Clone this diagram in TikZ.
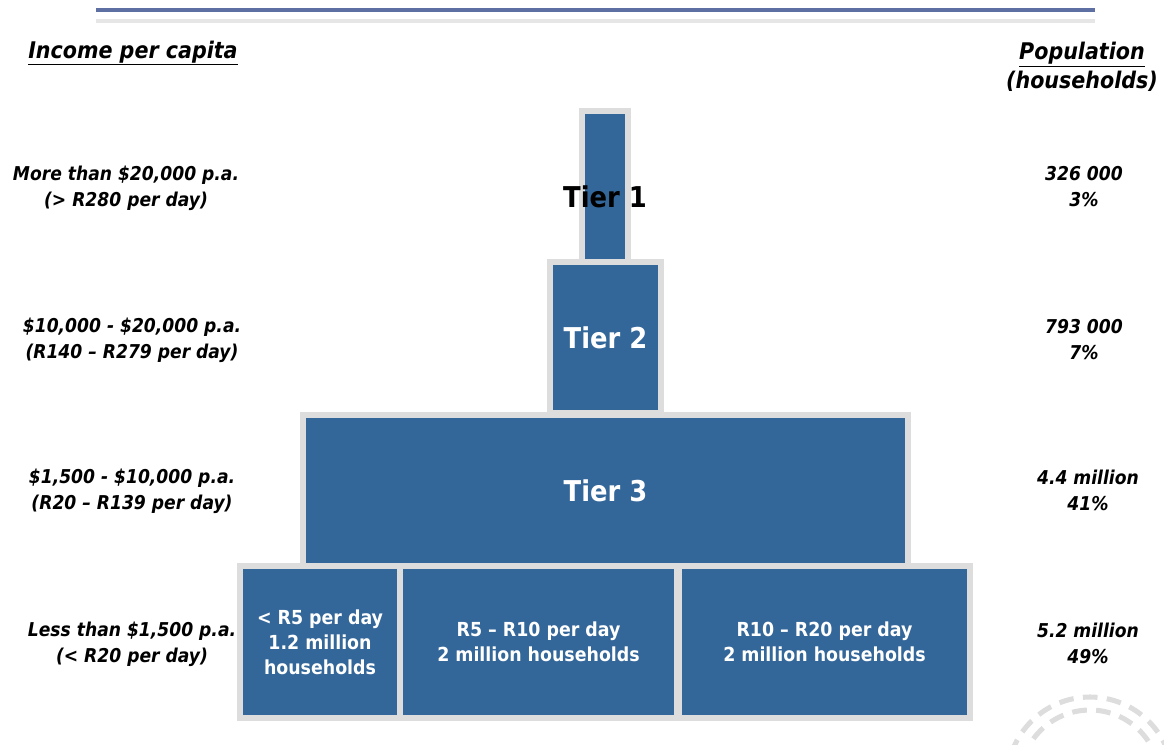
\documentclass[tikz,border=0pt]{standalone}
\usepackage{fontspec}
\setmainfont{DejaVu Sans Condensed}
\definecolor{tierblue}{HTML}{336699}
\definecolor{rimgray}{HTML}{DDDDDD}
\definecolor{rulblue}{HTML}{5D6FA3}
\definecolor{rulgray}{HTML}{E6E6E6}
\begin{document}
\begin{tikzpicture}[x=0.75pt,y=-0.75pt,
  tierbox/.style={draw=rimgray, line width=4.5pt, fill=tierblue, inner sep=0pt,
    text=white, font=\bfseries\fontsize{21.5}{26}\selectfont, align=center},
  subbox/.style={tierbox, font=\bfseries\fontsize{14.5}{18.75}\selectfont},
  sidetxt/.style={font=\bfseries\itshape\fontsize{14.3}{19.5}\selectfont, align=center, inner sep=0pt},
  headtxt/.style={font=\bfseries\itshape\fontsize{17.2}{21.5}\selectfont, align=center, inner sep=0pt},
  arcline/.style={draw=rimgray, line width=3.8pt, dash pattern=on 11pt off 7pt}]
\useasboundingbox (0,0) rectangle (1164,744);
% top rules
\coordinate (rl) at (96,10);
\coordinate (rr) at (1095,10);
\coordinate (gl) at (96,20.5);
\coordinate (gr) at (1095,20.5);
\draw[rulblue, line width=3pt] (rl) -- (rr);
\draw[rulgray, line width=3pt] (gl) -- (gr);
% headers
\node[headtxt] (hinc) at (133,53) {\underline{Income per capita}};
\node[headtxt] (hpop) at (1082,67) {\underline{Population}\\(households)};
% pyramid
\node[tierbox, minimum width=34.5pt, minimum height=113.25pt] (t1) at (605,186.5) {};
\node[tierbox, minimum width=83.25pt, minimum height=113.25pt] (t2) at (605.5,337.5) {Tier 2};
\node[tierbox, minimum width=453.75pt, minimum height=113.25pt] (t3) at (605.5,490.5) {Tier 3};
\node[subbox, minimum width=120pt, minimum height=114pt] (b1) at (320,642) {< R5 per day\\1.2 million\\households};
\node[subbox, minimum width=207.75pt, minimum height=114pt] (b2) at (538.5,642) {R5 – R10 per day\\2 million households};
\node[subbox, minimum width=218.25pt, minimum height=114pt] (b3) at (824.5,642) {R10 – R20 per day\\2 million households};
\node[font=\bfseries\fontsize{21.5}{26}\selectfont, text=black, inner sep=0pt] (t1lab) at (t1.center |- 0,197) {Tier 1};
% left labels
\node[sidetxt] (l1) at (126,188) {More than \$20,000 p.a.\\(> R280 per day)};
\node[sidetxt] (l2) at (132,340.5) {\$10,000 - \$20,000 p.a.\\(R140 – R279 per day)};
\node[sidetxt] (l3) at (132,491) {\$1,500 - \$10,000 p.a.\\(R20 – R139 per day)};
\node[sidetxt] (l4) at (132,644) {Less than \$1,500 p.a.\\(< R20 per day)};
% right labels
\node[sidetxt] (r1) at (1084,187) {326 000\\3\%};
\node[sidetxt] (r2) at (1084,339.5) {793 000\\7\%};
\node[sidetxt] (r3) at (1088,490.5) {4.4 million\\41\%};
\node[sidetxt] (r4) at (1088,643.5) {5.2 million\\49\%};
% decorative arcs
\coordinate (ac) at (1090,780);
\draw[arcline] (ac) circle[radius=83];
\draw[arcline] (ac) circle[radius=70];
\end{tikzpicture}
\end{document}
